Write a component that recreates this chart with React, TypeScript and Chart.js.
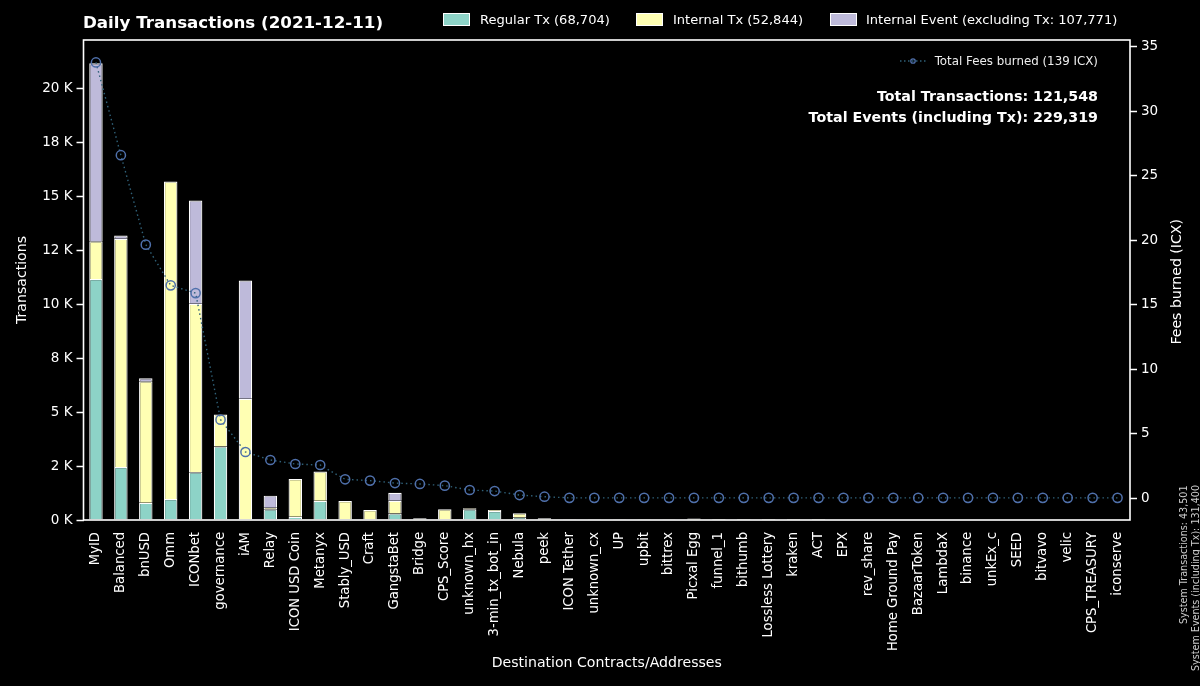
import React, { useEffect, useRef } from "react";
import { Chart, registerables } from "chart.js";

Chart.register(...registerables);

const categories = ["MyID","Balanced","bnUSD","Omm","ICONbet","governance","iAM","Relay","ICON USD Coin","Metanyx","Stably_USD","Craft","GangstaBet","Bridge","CPS_Score","unknown_hx","3-min_tx_bot_in","Nebula","peek","ICON Tether","unknown_cx","UP","upbit","bittrex","Picxal Egg","funnel_1","bithumb","Lossless Lottery","kraken","ACT","EPX","rev_share","Home Ground Pay","BazaarToken","LambdaX","binance","unkEx_c","SEED","bitvavo","velic","CPS_TREASURY","iconserve"];
const regularTx = [11180,2460,800,970,2210,3410,0,500,150,890,50,20,300,0,0,500,420,120,0,0,0,0,0,0,0,0,0,0,0,0,0,0,0,0,0,0,0,0,0,0,0,0];
const internalTx = [1750,10590,5640,14730,7820,1480,5620,70,1750,1360,830,440,590,80,500,40,40,190,80,10,30,10,10,10,70,5,5,5,5,5,0,0,0,0,0,0,0,0,0,0,0,0];
const internalEvent = [8260,150,140,0,4790,0,5490,560,0,0,0,0,370,0,0,0,0,0,0,0,0,0,0,0,0,0,0,0,0,0,0,0,0,0,0,0,0,0,0,0,0,0];
const feesBurned = [33.8,26.6,19.66,16.5,15.9,6.08,3.57,2.95,2.64,2.56,1.45,1.35,1.16,1.09,0.96,0.62,0.54,0.23,0.1,0.01,0.01,0.01,0.01,0.01,0.01,0.01,0.01,0.01,0.01,0.01,0.01,0.01,0.01,0.01,0.01,0.01,0.01,0.01,0.01,0.01,0.01,0.01];
const leftTickValues = [0,2500,5000,7500,10000,12500,15000,17500,20000];
const leftTickLabels = ["0 K","2 K","5 K","8 K","10 K","12 K","15 K","18 K","20 K"];
const rightTickValues = [0,5,10,15,20,25,30,35];

const FONT = "'DejaVu Sans', sans-serif";
const COLORS = { regular: "#8dd3c7", internal: "#ffffb3", event: "#bebada", line: "#2f6078", marker: "#4f70ab" };

const abs = (o: React.CSSProperties): React.CSSProperties => ({ position: "absolute", whiteSpace: "nowrap", fontFamily: FONT, color: "#fff", ...o });

const frame = {
  id: "frame",
  afterDatasetsDraw(chart: any) {
    const { ctx, chartArea: a } = chart;
    ctx.save();
    ctx.strokeStyle = "#fff";
    ctx.lineWidth = 1.6;
    ctx.strokeRect(a.left, a.top, a.right - a.left, a.bottom - a.top);
    ctx.restore();
  },
};

const axisBase = {
  border: { display: false },
  grid: { drawOnChartArea: false, drawTicks: true, tickLength: 7, tickColor: "#fff", tickWidth: 1.5 },
};

export default function App() {
  const ref = useRef<HTMLCanvasElement>(null);
  useEffect(() => {
    document.body.style.margin = "0";
    document.body.style.background = "#000";
    const bar = (label: string, data: number[], color: string) => ({
      type: "bar" as const, label, data, backgroundColor: color, borderColor: "#fff", borderWidth: 1.2,
      barPercentage: 0.54, categoryPercentage: 1, yAxisID: "y", order: 2,
    });
    const chart = new Chart(ref.current!, {
      type: "bar",
      data: {
        labels: categories,
        datasets: [
          bar("Regular Tx", regularTx, COLORS.regular),
          bar("Internal Tx", internalTx, COLORS.internal),
          bar("Internal Event", internalEvent, COLORS.event),
          {
            type: "line", label: "Total Fees burned", data: feesBurned, yAxisID: "y2", order: 1,
            borderColor: COLORS.line, borderWidth: 1.4, borderDash: [1.5, 3], tension: 0,
            pointRadius: 4.6, pointBorderWidth: 1.5, pointBackgroundColor: "rgba(0,0,0,0)", pointBorderColor: COLORS.marker,
          } as any,
        ],
      },
      options: {
        responsive: false,
        animation: false,
        layout: { padding: { top: 40, left: 0, right: 0, bottom: 0 } },
        plugins: { legend: { display: false }, title: { display: false }, tooltip: { enabled: false } },
        scales: {
          x: {
            ...axisBase, stacked: true,
            grid: { ...axisBase.grid, drawTicks: false, tickLength: 0 },
            afterFit: (s: any) => { s.height = 166; },
            ticks: { color: "#fff", font: { family: FONT, size: 13.2 }, autoSkip: false, maxRotation: 90, minRotation: 90, padding: 12 },
            title: { display: true, text: "Destination Contracts/Addresses", color: "#fff", font: { family: FONT, size: 14.1 }, padding: { top: 0, bottom: 14 } },
          },
          y: {
            ...axisBase, stacked: true, position: "left", min: 0, max: 22270,
            afterFit: (s: any) => { s.width = 83.5; },
            afterBuildTicks: (s: any) => { s.ticks = leftTickValues.map((value) => ({ value })); },
            ticks: { color: "#fff", font: { family: FONT, size: 13.5 }, padding: 4, callback: (v: any) => leftTickLabels[leftTickValues.indexOf(Number(v))] },
            title: { display: true, text: "Transactions", color: "#fff", font: { family: FONT, size: 14.1 }, padding: { top: 14, bottom: 0 } },
          },
          y2: {
            ...axisBase, position: "right", min: -1.707, max: 35.54,
            afterFit: (s: any) => { s.width = 70; },
            afterBuildTicks: (s: any) => { s.ticks = rightTickValues.map((value) => ({ value })); },
            ticks: { color: "#fff", font: { family: FONT, size: 13.5 }, padding: 4, callback: (v: any) => String(v) },
          },
        },
      },
      plugins: [frame],
    } as any);
    return () => chart.destroy();
  }, []);

  const swatch = (left: number, color: string) => (
    <div style={{ position: "absolute", left, top: 13, width: 27, height: 13, background: color, boxSizing: "border-box", border: "1px solid #fff" }} />
  );
  const lg = (left: number, text: string) => (
    <div style={abs({ left, top: 11, fontSize: 13.05, lineHeight: "17px" })}>{text}</div>
  );

  return (
    <div style={{ position: "fixed", left: 0, top: 0, width: 1200, height: 686, background: "#000", overflow: "hidden" }}>
      <canvas ref={ref} width={1200} height={686} style={{ display: "block" }} />
      <div style={abs({ left: 83, top: 12, fontSize: 16.7, fontWeight: 700, lineHeight: "21px" })}>Daily Transactions (2021-12-11)</div>
      {swatch(443, COLORS.regular)}{lg(480, "Regular Tx (68,704)")}
      {swatch(636, COLORS.internal)}{lg(673, "Internal Tx (52,844)")}
      {swatch(830, COLORS.event)}{lg(866, "Internal Event (excluding Tx: 107,771)")}
      <svg style={{ position: "absolute", left: 900, top: 56 }} width="26" height="10">
        <line x1="0" y1="5" x2="26" y2="5" stroke={COLORS.line} strokeWidth="1.3" strokeDasharray="1.5 2.5" />
        <circle cx="13" cy="5" r="2.2" fill="none" stroke={COLORS.marker} strokeWidth="1.3" />
      </svg>
      <div style={abs({ right: 102, top: 54, fontSize: 11.85, lineHeight: "14px", color: "#eee" })}>Total Fees burned (139 ICX)</div>
      <div style={abs({ right: 102, top: 87, fontSize: 14.25, fontWeight: 700, lineHeight: "18px" })}>Total Transactions: 121,548</div>
      <div style={abs({ right: 102, top: 108, fontSize: 14.25, fontWeight: 700, lineHeight: "18px" })}>Total Events (including Tx): 229,319</div>
      <div style={abs({ left: 1167, top: 219, writingMode: "vertical-rl", transform: "rotate(180deg)", fontSize: 14.1, lineHeight: "18px" })}>Fees burned (ICX)</div>
      <div style={abs({ left: 1178, top: 487, writingMode: "vertical-rl", transform: "rotate(180deg)", fontSize: 9.6, lineHeight: "12px", color: "#ccc", height: 137, textAlign: "left" })}>System Transactions: 43,501</div>
      <div style={abs({ left: 1190, top: 487, writingMode: "vertical-rl", transform: "rotate(180deg)", fontSize: 9.6, lineHeight: "12px", color: "#ccc", height: 184, textAlign: "left" })}>System Events (including Tx): 131,400</div>
    </div>
  );
}
